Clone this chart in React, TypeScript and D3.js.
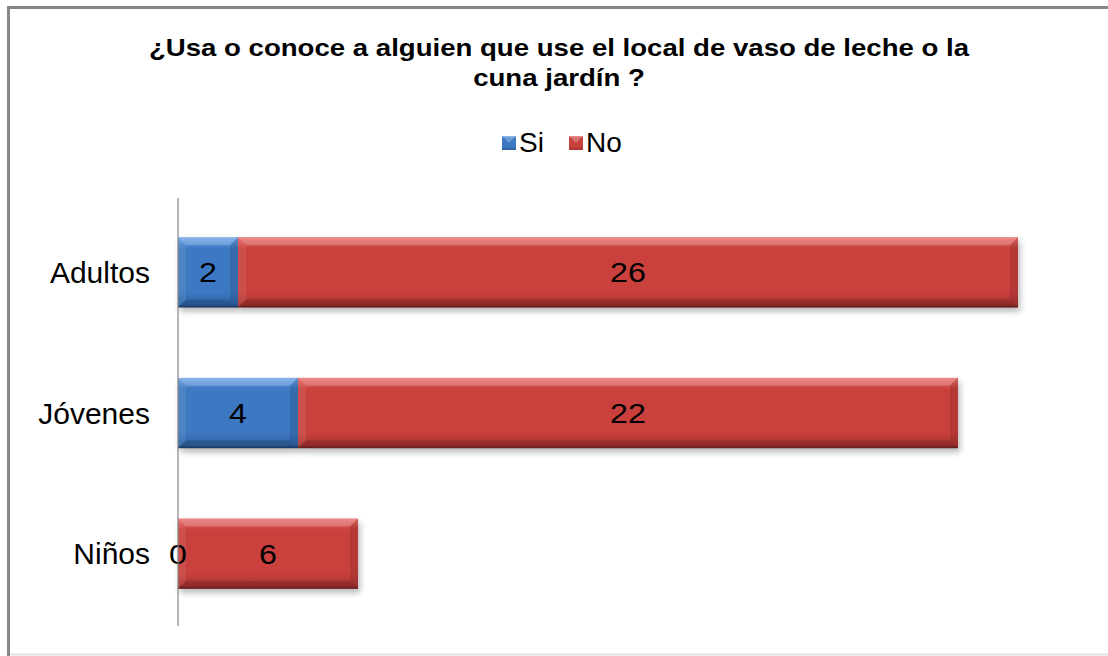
import React, { useEffect, useRef } from "react";
import * as d3 from "d3";

const categories = ["Adultos", "Jóvenes", "Niños"];
const seriesNames = ["Si", "No"];
const siValues = [2, 4, 0];
const noValues = [26, 22, 6];
const titleLines = ["¿Usa o conoce a alguien que use el local de vaso de leche o la", "cuna jardín ?"];

const W = 1108;
const H = 656;

const palette: Record<string, { top: string; mid: string; bot: string }> = {
  Si: { top: "#6aa2e6", mid: "#3d78c2", bot: "#2c5d9c" },
  No: { top: "#ea6d6a", mid: "#c9403d", bot: "#a0302e" },
};

export default function App() {
  const axisRef = useRef<SVGGElement>(null);

  const x = d3.scaleLinear().domain([0, 28]).range([178, 1018]);
  const y = d3.scaleBand<string>().domain(categories).range([202, 624]).paddingInner(0.5).paddingOuter(0.25);

  const rows = categories.map((c, i) => ({ cat: c, Si: siValues[i], No: noValues[i] }));
  const stack = d3.stack<any>().keys(seriesNames)(rows);

  useEffect(() => {
    if (!axisRef.current) return;
    const g = d3.select(axisRef.current);
    g.selectAll("*").remove();
    g.call(d3.axisLeft(y).tickSize(0).tickPadding(28) as any);
    g.select(".domain").attr("stroke", "#868686").attr("stroke-width", 1.2).attr("d", `M0,${198}V${626}`);
    g.selectAll(".tick text")
      .attr("font-family", "Liberation Sans, Arial, sans-serif")
      .attr("font-size", 30)
      .attr("fill", "#000")
      .attr("dy", "0.36em");
  }, []);

  const b = 8;

  return (
    <svg width={W} height={H} style={{ position: "absolute", left: 0, top: 0, background: "#fff" }}>
      <defs>
        {seriesNames.map((s) => (
          <linearGradient key={s} id={`g-${s}`} x1="0" y1="0" x2="0" y2="1">
            <stop offset="0" stopColor={palette[s].top} />
            <stop offset="0.16" stopColor={palette[s].mid} />
            <stop offset="0.78" stopColor={palette[s].mid} />
            <stop offset="1" stopColor={palette[s].bot} />
          </linearGradient>
        ))}
        <filter id="shadow" x="-10%" y="-20%" width="130%" height="160%">
          <feGaussianBlur stdDeviation="3" />
        </filter>
      </defs>
      <rect x={0} y={0} width={W} height={H} fill="#fff" />
      {/* frame */}
      <line x1={8} y1={7.5} x2={W} y2={7.5} stroke="#878787" strokeWidth={3} />
      <line x1={8.5} y1={6} x2={8.5} y2={H} stroke="#878787" strokeWidth={3} />
      <line x1={10} y1={654.5} x2={W} y2={654.5} stroke="#e2e2e2" strokeWidth={2} />

      {/* title */}
      {titleLines.map((t, i) => (
        <text
          key={i}
          transform={`translate(559,${56 + i * 30}) scale(1.2,1)`}
          textAnchor="middle"
          fontFamily="Liberation Sans, Arial, sans-serif"
          fontWeight="bold"
          fontSize={23}
          fill="#000"
        >
          {t}
        </text>
      ))}

      {/* legend */}
      {seriesNames.map((s, i) => {
        const lx = i === 0 ? 502 : 569;
        return (
          <g key={s}>
            <rect x={lx} y={136} width={14} height={14} fill={`url(#g-${s})`} />
            <polygon points={`${lx},136 ${lx + 14},136 ${lx + 7},${143}`} fill="#fff" opacity={0.25} />
            <text
              x={lx + 17}
              y={152}
              fontFamily="Liberation Sans, Arial, sans-serif"
              fontSize={28}
              fill="#000"
            >
              {s}
            </text>
          </g>
        );
      })}

      {/* shadows */}
      {stack.map((layer) =>
        layer.map((d, j) => {
          const x0 = x(d[0]);
          const x1 = x(d[1]);
          const y0 = y(categories[j])!;
          if (x1 - x0 <= 0) return null;
          return (
            <rect
              key={`sh-${layer.key}-${j}`}
              x={x0 + 2}
              y={y0 + 4}
              width={x1 - x0}
              height={y.bandwidth()}
              fill="#000"
              opacity={0.28}
              filter="url(#shadow)"
            />
          );
        })
      )}

      {/* bars */}
      {stack.map((layer) =>
        layer.map((d, j) => {
          const x0 = x(d[0]);
          const x1 = x(d[1]);
          const y0 = y(categories[j])!;
          const h = y.bandwidth();
          const y1 = y0 + h;
          const w = x1 - x0;
          if (w <= 0) return null;
          return (
            <g key={`b-${layer.key}-${j}`}>
              <rect x={x0} y={y0} width={w} height={h} fill={`url(#g-${layer.key})`} />
              <polygon points={`${x0},${y0} ${x1},${y0} ${x1 - b},${y0 + b} ${x0 + b},${y0 + b}`} fill="#fff" opacity={0.2} />
              <polygon points={`${x0},${y0} ${x0 + b},${y0 + b} ${x0 + b},${y1 - b} ${x0},${y1}`} fill="#fff" opacity={0.08} />
              <polygon points={`${x1},${y0} ${x1},${y1} ${x1 - b},${y1 - b} ${x1 - b},${y0 + b}`} fill="#000" opacity={0.1} />
              <polygon points={`${x0},${y1} ${x1},${y1} ${x1 - b},${y1 - b} ${x0 + b},${y1 - b}`} fill="#000" opacity={0.14} />
              <rect x={x0} y={y1 - 2} width={w} height={2} fill="#000" opacity={0.22} />
            </g>
          );
        })
      )}

      {/* data labels */}
      {stack.map((layer) =>
        layer.map((d, j) => {
          const x0 = x(d[0]);
          const x1 = x(d[1]);
          const cy = y(categories[j])! + y.bandwidth() / 2;
          return (
            <text
              key={`l-${layer.key}-${j}`}
              transform={`translate(${(x0 + x1) / 2},${cy}) scale(1.15,1)`}
              dy="0.36em"
              textAnchor="middle"
              fontFamily="Liberation Sans, Arial, sans-serif"
              fontSize={28}
              fill="#000"
            >
              {d[1] - d[0]}
            </text>
          );
        })
      )}

      {/* axis */}
      <g ref={axisRef} transform={`translate(${x(0)},0)`} />
    </svg>
  );
}
